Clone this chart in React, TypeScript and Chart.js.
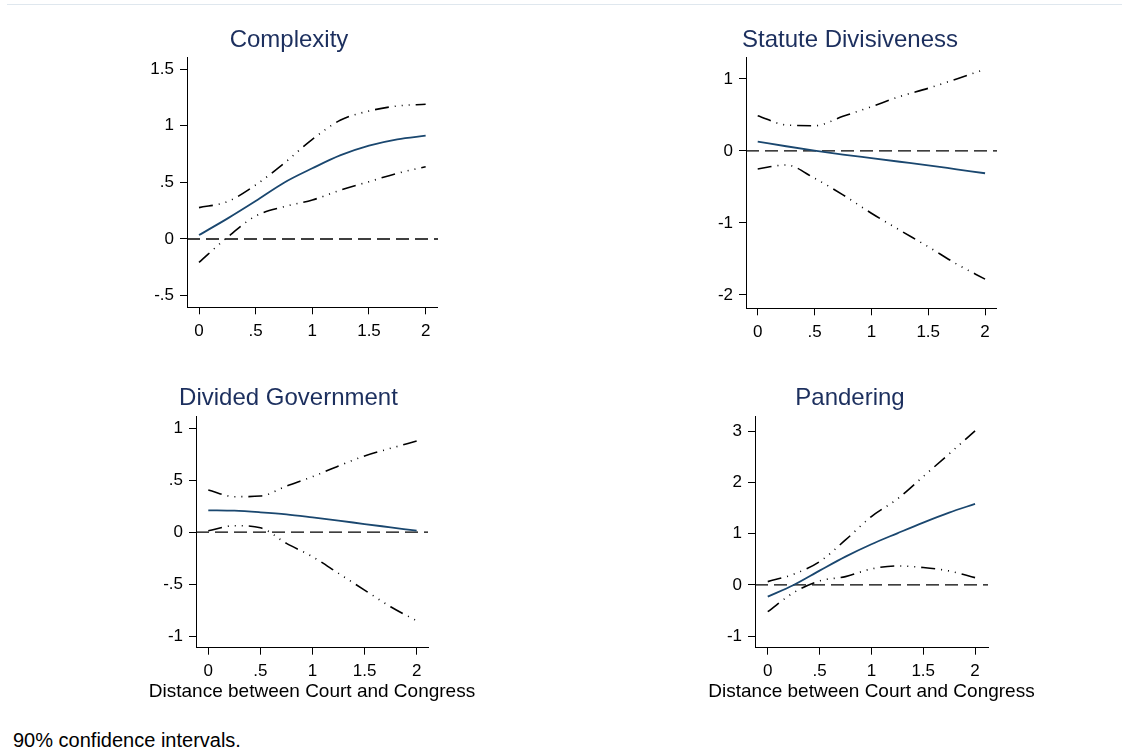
import React, { useEffect, useRef } from "react";
import { Chart, registerables } from "chart.js";

Chart.register(...registerables);

// ---------- data ----------
const xValues = [0, 0.25, 0.5, 0.75, 1, 1.25, 1.5, 1.75, 2];
const xTickValues = [0, 0.5, 1, 1.5, 2];

const complexityEst = [0.035, 0.18, 0.335, 0.497, 0.624, 0.74, 0.824, 0.88, 0.912];
const complexityUpper = [0.277, 0.33, 0.477, 0.668, 0.88, 1.05, 1.13, 1.174, 1.19];
const complexityLower = [-0.206, 0.015, 0.203, 0.285, 0.344, 0.432, 0.506, 0.58, 0.638];
const complexityTicks = [-0.5, 0, 0.5, 1, 1.5];

const divisivenessEst = [0.13, 0.065, 0.005, -0.05, -0.1, -0.15, -0.2, -0.255, -0.31];
const divisivenessUpper = [0.49, 0.36, 0.35, 0.48, 0.615, 0.755, 0.87, 1.0, 1.135];
const divisivenessLower = [-0.25, -0.195, -0.38, -0.61, -0.865, -1.1, -1.33, -1.57, -1.78];
const divisivenessTicks = [-2, -1, 0, 1];

const dividedEst = [0.209, 0.205, 0.19, 0.17, 0.141, 0.11, 0.077, 0.045, 0.013];
const dividedUpper = [0.404, 0.34, 0.346, 0.442, 0.532, 0.635, 0.731, 0.805, 0.875];
const dividedLower = [0.013, 0.061, 0.041, -0.109, -0.237, -0.397, -0.558, -0.718, -0.853];
const dividedTicks = [-1, -0.5, 0, 0.5, 1];

const panderingEst = [-0.228, 0.0, 0.28, 0.554, 0.796, 1.01, 1.22, 1.415, 1.585];
const panderingUpper = [0.065, 0.21, 0.456, 0.88, 1.337, 1.68, 2.12, 2.564, 3.013];
const panderingLower = [-0.522, -0.15, 0.078, 0.163, 0.313, 0.372, 0.34, 0.274, 0.143];
const panderingTicks = [-1, 0, 1, 2, 3];

const xAxisTitle = "Distance between Court and Congress";
const noteText = "90% confidence intervals.";

// ---------- styling ----------
const FONT = "'Liberation Sans', Arial, Helvetica, sans-serif";
const TITLE_COLOR = "#1c2f5e";
const EST_COLOR = "#1a476f";
const CI_DASH = [14, 6, 1, 6, 1, 6, 1, 6];

function stataLabel(v: number): string {
  const r = Math.round(Number(v) * 1000) / 1000;
  let s = String(r);
  s = s.replace(/^0\./, ".").replace(/^-0\./, "-.");
  return s;
}

type PanelSpec = {
  title: string;
  est: number[];
  upper: number[];
  lower: number[];
  yTicks: number[];
  xRange: [number, number];
  yRange: [number, number];
  left: number;
  top: number;
  width: number;
  height: number;
  sidePad: number;
  yAxisWidth: number;
  xAxisHeight: number;
  titlePadTop: number;
  titlePadBottom: number;
  showXTitle: boolean;
  xTitleBaseline: number;
};

const panels: PanelSpec[] = [
  {
    title: "Complexity",
    est: complexityEst,
    upper: complexityUpper,
    lower: complexityLower,
    yTicks: complexityTicks,
    xRange: [-0.106, 2.109],
    yRange: [-0.603, 1.604],
    left: 140,
    top: 0,
    width: 298,
    height: 340,
    sidePad: 0,
    yAxisWidth: 47,
    xAxisHeight: 32.7,
    titlePadTop: 25.6,
    titlePadBottom: 2.9,
    showXTitle: false,
    xTitleBaseline: 0,
  },
  {
    title: "Statute Divisiveness",
    est: divisivenessEst,
    upper: divisivenessUpper,
    lower: divisivenessLower,
    yTicks: divisivenessTicks,
    xRange: [-0.103, 2.105],
    yRange: [-2.185, 1.3],
    left: 703,
    top: 0,
    width: 294,
    height: 340,
    sidePad: 0,
    yAxisWidth: 43,
    xAxisHeight: 31.7,
    titlePadTop: 25.6,
    titlePadBottom: 2.9,
    showXTitle: false,
    xTitleBaseline: 0,
  },
  {
    title: "Divided Government",
    est: dividedEst,
    upper: dividedUpper,
    lower: dividedLower,
    yTicks: dividedTicks,
    xRange: [-0.118, 2.109],
    yRange: [-1.112, 1.109],
    left: 89,
    top: 360,
    width: 399,
    height: 348,
    sidePad: 60,
    yAxisWidth: 47,
    xAxisHeight: 60.3,
    titlePadTop: 24,
    titlePadBottom: 3.9,
    showXTitle: true,
    xTitleBaseline: 337.3,
  },
  {
    title: "Pandering",
    est: panderingEst,
    upper: panderingUpper,
    lower: panderingLower,
    yTicks: panderingTicks,
    xRange: [-0.123, 2.125],
    yRange: [-1.227, 3.29],
    left: 652,
    top: 360,
    width: 396,
    height: 348,
    sidePad: 60,
    yAxisWidth: 43,
    xAxisHeight: 60.3,
    titlePadTop: 24,
    titlePadBottom: 3.9,
    showXTitle: true,
    xTitleBaseline: 337.3,
  },
];

const toPoints = (ys: number[]) => xValues.map((x, i) => ({ x, y: ys[i] }));

function Panel({ spec }: { spec: PanelSpec }) {
  const ref = useRef<HTMLCanvasElement | null>(null);

  useEffect(() => {
    if (!ref.current) return;
    const [xMin, xMax] = spec.xRange;
    const [yMin, yMax] = spec.yRange;

    // x-axis title drawn without Chart.js's max-width squeeze (Stata lets it overhang)
    const axisTitlePlugin = {
      id: "wideAxisTitle",
      afterDraw(chart: any) {
        if (!spec.showXTitle) return;
        const { ctx, chartArea } = chart;
        ctx.save();
        ctx.font = `19px ${FONT}`;
        ctx.fillStyle = "#000";
        ctx.textAlign = "center";
        ctx.textBaseline = "alphabetic";
        ctx.fillText(xAxisTitle, (chartArea.left + chartArea.right) / 2, spec.xTitleBaseline);
        ctx.restore();
      },
    };

    const chart = new Chart(ref.current, {
      type: "line",
      data: {
        datasets: [
          {
            label: "estimate",
            data: toPoints(spec.est),
            borderColor: EST_COLOR,
            borderWidth: 1.8,
            pointRadius: 0,
            cubicInterpolationMode: "monotone",
            fill: false,
          },
          {
            label: "upper",
            data: toPoints(spec.upper),
            borderColor: "#000",
            borderWidth: 1.6,
            borderDash: CI_DASH,
            pointRadius: 0,
            cubicInterpolationMode: "monotone",
            fill: false,
          },
          {
            label: "lower",
            data: toPoints(spec.lower),
            borderColor: "#000",
            borderWidth: 1.6,
            borderDash: CI_DASH,
            pointRadius: 0,
            cubicInterpolationMode: "monotone",
            fill: false,
          },
          {
            label: "zero",
            data: [
              { x: xMin, y: 0 },
              { x: xMax, y: 0 },
            ],
            borderColor: "#000",
            borderWidth: 1.3,
            borderDash: [13, 6],
            pointRadius: 0,
            fill: false,
          },
        ],
      },
      options: {
        animation: false,
        responsive: false,
        events: [],
        layout: { padding: { left: spec.sidePad, right: spec.sidePad, top: 0, bottom: 0 } },
        plugins: {
          legend: { display: false },
          tooltip: { enabled: false },
          title: {
            display: true,
            text: spec.title,
            color: TITLE_COLOR,
            font: { family: FONT, size: 24, weight: "normal", lineHeight: 1.2 },
            padding: { top: spec.titlePadTop, bottom: spec.titlePadBottom },
          },
        },
        scales: {
          x: {
            type: "linear",
            min: xMin,
            max: xMax,
            afterBuildTicks: (s: any) => {
              s.ticks = xTickValues.map((v) => ({ value: v }));
            },
            afterFit: (s: any) => {
              s.height = spec.xAxisHeight;
            },
            ticks: {
              callback: (v: any) => stataLabel(v),
              color: "#000",
              font: { family: FONT, size: 17 },
              padding: 6.5,
              maxRotation: 0,
              autoSkip: false,
            },
            grid: {
              display: true,
              drawOnChartArea: false,
              drawTicks: true,
              tickLength: 7,
              color: "#000",
              lineWidth: 1,
            },
            border: { display: true, color: "#000", width: 1 },
            title: { display: false },
          },
          y: {
            type: "linear",
            min: yMin,
            max: yMax,
            afterBuildTicks: (s: any) => {
              s.ticks = spec.yTicks.map((v) => ({ value: v }));
            },
            afterFit: (s: any) => {
              s.width = spec.yAxisWidth;
            },
            ticks: {
              callback: (v: any) => stataLabel(v),
              color: "#000",
              font: { family: FONT, size: 17 },
              padding: 6,
              autoSkip: false,
            },
            grid: {
              display: true,
              drawOnChartArea: false,
              drawTicks: true,
              tickLength: 7,
              color: "#000",
              lineWidth: 1,
            },
            border: { display: true, color: "#000", width: 1 },
          },
        },
      } as any,
      plugins: [axisTitlePlugin],
    });
    return () => chart.destroy();
  }, [spec]);

  return (
    <canvas
      ref={ref}
      width={spec.width}
      height={spec.height}
      style={{
        position: "absolute",
        left: spec.left,
        top: spec.top,
        width: spec.width,
        height: spec.height,
      }}
    />
  );
}

export default function App() {
  return (
    <div
      style={{
        position: "fixed",
        left: 0,
        top: 0,
        width: 1122,
        height: 751,
        background: "#fff",
        overflow: "hidden",
      }}
    >
      <div
        style={{
          position: "absolute",
          left: 7,
          top: 4,
          width: 1115,
          height: 0,
          borderTop: "1px solid #dfe7ee",
        }}
      />
      {panels.map((p) => (
        <Panel key={p.title} spec={p} />
      ))}
      <div
        style={{
          position: "absolute",
          left: 13,
          top: 730,
          fontFamily: FONT,
          fontSize: 20,
          lineHeight: "20px",
          color: "#000",
          whiteSpace: "nowrap",
        }}
      >
        {noteText}
      </div>
    </div>
  );
}
